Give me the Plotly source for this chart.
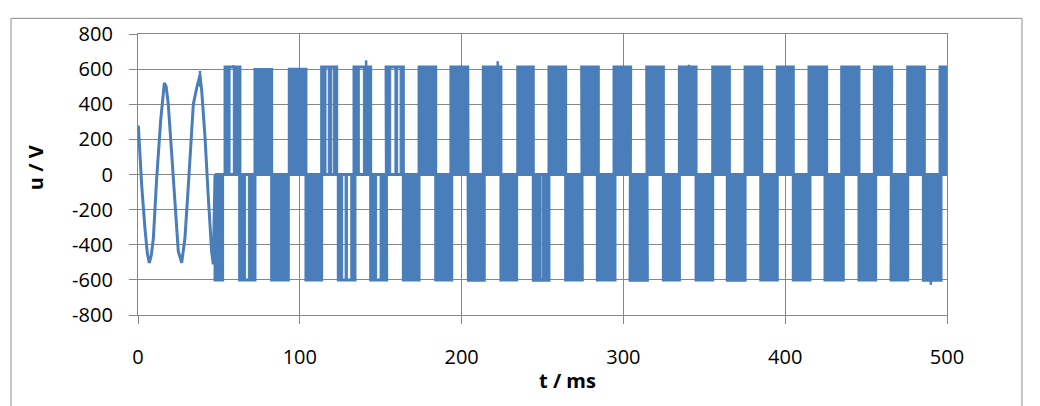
import plotly.graph_objects as go

# ---------------- data ----------------
# start-up sine section (t in ms, u in V)
sine_t = [0.2, 2.3, 4.3, 5.8, 7.0, 8.2, 9.5, 11.5, 14.0, 16.3, 17.4, 18.7, 20.8, 22.9,
          24.9, 27.0, 29.0, 31.1, 34.2, 36.3, 38.3, 39.4, 41.4, 43.4, 45.5, 46.5]
sine_u = [279, -65, -307, -450, -503, -460, -363, -28, 307, 522, 500, 400, 121, -177,
          -437, -503, -363, -65, 400, 494, 564, 475, 214, -121, -437, -512]

# PWM switching blocks: envelope start / end (ms) and level (V)
block_start = [47.6, 53.8, 62.8, 72.3, 82.6, 93.5, 103.8, 113.5, 123.8, 133.5, 143.8, 153.3,
               164.0, 173.7, 184.0, 193.4, 204.2, 213.4, 224.3, 234.7, 244.3, 254.0, 264.3,
               274.2, 283.9, 294.2, 304.1, 314.4, 324.7, 334.6, 344.9, 355.2, 364.2, 375.2,
               384.9, 395.1, 405.0, 414.7, 424.6, 434.9, 445.6, 455.1, 465.4, 475.7, 485.4,
               495.7]
block_end = [52.3, 63.0, 72.3, 82.6, 92.9, 103.8, 113.5, 122.8, 134.1, 143.8, 153.7, 164.0,
             173.7, 184.0, 193.9, 203.8, 214.0, 224.3, 234.0, 244.3, 254.0, 264.3, 274.6,
             284.5, 294.8, 304.5, 314.8, 324.7, 334.6, 344.9, 355.2, 365.5, 375.2, 385.5,
             395.1, 405.0, 415.3, 425.6, 435.9, 445.6, 455.9, 465.8, 475.7, 486.0, 496.3,
             500.5]
block_level = [-600, 612, -600, 598, -600, 600, -600, 612, -600, 612, -600, 612,
               -600, 612, -600, 612, -602, 612, -600, 612, -602, 612, -600,
               612, -600, 612, -602, 612, -600, 612, -600, 612, -602, 612,
               -600, 612, -600, 612, -600, 612, -600, 612, -600, 612, -602,
               612]

# intervals inside blocks with no switching (hollow parts)
gap_start = [56.9, 66.5, 116.2, 119.7, 126.5, 129.4, 136.8, 147.5, 156.2, 160.5, 249.1]
gap_end = [58.9, 68.2, 117.6, 120.7, 128.0, 131.5, 139.3, 149.6, 158.8, 162.0, 249.8]

# isolated overshoot spikes
spike_t = [38.3, 141.0, 222.3, 340.5, 490.0, 59.0]
spike_base = [500, 612, 612, 612, -602, 612]
spike_u = [590, 650, 645, 625, -628, 622]

# axes
x_ticks = [0, 100, 200, 300, 400, 500]
y_ticks = [-800, -600, -400, -200, 0, 200, 400, 600, 800]

# ---------------- style ----------------
BLUE = "#4A7EBB"
GRID = "#878787"
FONT = "Open Sans"

# waveform envelope path
wx, wy = list(sine_t), list(sine_u)
for s, e, lv in zip(block_start, block_end, block_level):
    wx += [s, s, e, e]
    wy += [0, lv, lv, 0]

# filled switching columns (block minus hollow gaps)
fx, fy = [], []
for s, e, lv in zip(block_start, block_end, block_level):
    cuts = sorted([(a, b) for a, b in zip(gap_start, gap_end) if s < a < e])
    cur = s
    pieces = []
    for a, b in cuts:
        pieces.append((cur, a))
        cur = b
    pieces.append((cur, e))
    for a, b in pieces:
        fx += [a, a, b, b, a, None]
        fy += [0, lv, lv, 0, 0, None]

sx, sy = [], []
for t, b, u in zip(spike_t, spike_base, spike_u):
    sx += [t, t, None]
    sy += [b, u, None]

fig = go.Figure()
fig.add_trace(go.Scatter(x=fx, y=fy, mode="lines", fill="toself", fillcolor=BLUE,
                         line=dict(color=BLUE, width=1), hoverinfo="skip", showlegend=False))
fig.add_trace(go.Scatter(x=[block_start[0], block_end[-1]], y=[0, 0], mode="lines",
                         line=dict(color=BLUE, width=3), showlegend=False))
fig.add_trace(go.Scatter(x=wx, y=wy, mode="lines", line=dict(color=BLUE, width=3),
                         showlegend=False))
fig.add_trace(go.Scatter(x=sx, y=sy, mode="lines", line=dict(color=BLUE, width=2.5),
                         showlegend=False))

axis_common = dict(showgrid=True, gridcolor=GRID, gridwidth=1.3, showline=True,
                   linecolor=GRID, linewidth=1.3, mirror=True, ticks="outside",
                   ticklen=8, tickcolor=GRID, tickwidth=1.3, zeroline=False,
                   tickfont=dict(family=FONT, size=20, color="black"))

fig.update_xaxes(range=[0, 500], tickvals=x_ticks, ticktext=[str(v) for v in x_ticks],
                 ticklabelstandoff=16, **axis_common)
fig.update_yaxes(range=[-800, 800], tickvals=y_ticks, ticktext=[str(v) for v in y_ticks],
                 ticklabelstandoff=12, **axis_common)

# the page body adds an 8 px offset; figure is sized so the plot lands where the reference has it
OFF = 8
W, H = 1040 - OFF, 406 - OFF
L, T = 138 - OFF, 28 - OFF
pw, ph = 809, 287
R, B = W - L - pw, H - T - ph

def px(x):  # reference page x -> paper x
    return (x - OFF - L) / pw

def py(y):  # reference page y -> paper y
    return (H - B - (y - OFF)) / ph

fig.update_layout(
    width=W, height=H, autosize=False,
    margin=dict(l=L, r=R, t=T, b=B, pad=0),
    paper_bgcolor="white", plot_bgcolor="white",
    shapes=[dict(type="rect", xref="paper", yref="paper",
                 x0=px(11), x1=px(1022), y0=py(412), y1=py(12),
                 line=dict(color="#8f8f8f", width=1), layer="below")],
    annotations=[
        dict(text="<b>u / V</b>", xref="paper", yref="paper", x=px(35), y=py(165),
             showarrow=False, textangle=-90, font=dict(family=FONT, size=20, color="black"),
             xanchor="center", yanchor="middle"),
        dict(text="<b>t / ms</b>", xref="paper", yref="paper", x=px(567), y=py(382),
             showarrow=False, font=dict(family=FONT, size=20, color="black"),
             xanchor="center", yanchor="middle"),
    ],
)

fig.write_html("out.html")
